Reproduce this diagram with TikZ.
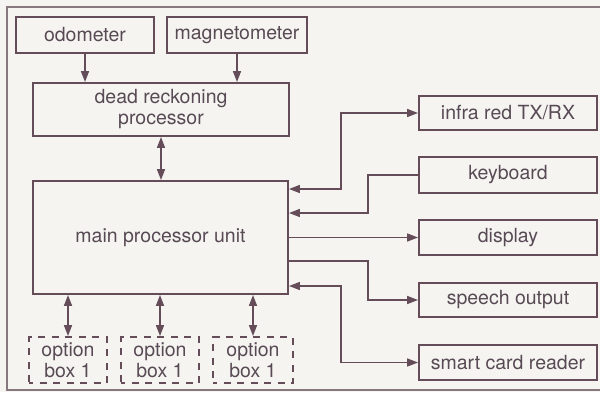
\documentclass[tikz,border=0pt]{standalone}
\usepackage{fontspec}
\setmainfont{TeX Gyre Heros}
\usetikzlibrary{arrows.meta}
\definecolor{ink}{RGB}{100,76,88}
\definecolor{txt}{RGB}{88,74,84}
\definecolor{paper}{RGB}{245,244,241}
\definecolor{framec}{RGB}{135,120,128}
\tikzset{
  blk/.style={draw=ink, line width=1.9pt, text=txt, inner sep=0pt, align=center,
    font=\fontsize{19.5}{21}\selectfont},
  optbox/.style={blk, dash pattern=on 7pt off 6.5pt, dash phase=3pt},
  tip/.tip={Triangle[length=11pt,width=8pt]},
  link/.style={draw=ink, line width=1.6pt, -tip},
  dlink/.style={draw=ink, line width=1.6pt, tip-tip}
}
\begin{document}
\begin{tikzpicture}[x=1pt, y=-1pt]
  % page and frame
  \fill[paper] (0,0) rectangle (600,392);
  \useasboundingbox (0,0) rectangle (600,392);
  \draw[framec, line width=1.2pt] (600,7) -- (7,7) -- (7,390) -- (600,390);

  % sensors and dead reckoning
  \node[blk, minimum width=138pt, minimum height=36pt] (odo) at (85,35) {odometer};
  \node[blk, minimum width=140pt, minimum height=36pt] (mag) at (237,35) {magnetometer};
  \node[blk, minimum width=256pt, minimum height=53pt] (dr) at (161,109.5) {dead reckoning\\processor};

  % main unit
  \node[blk, minimum width=255pt, minimum height=113pt] (main) at (160.5,237.5) {main processor unit};

  % option boxes
  \node[optbox, minimum width=78pt, minimum height=46pt] (opt1) at (68,360) {option\\box 1};
  \node[optbox, minimum width=78pt, minimum height=46pt] (opt2) at (160,360) {option\\box 1};
  \node[optbox, minimum width=80pt, minimum height=46pt] (opt3) at (253,360) {option\\box 1};

  % peripherals
  \node[blk, minimum width=178pt, minimum height=34pt] (ir)  at (508,113)   {infra red TX/RX};
  \node[blk, minimum width=178pt, minimum height=36pt] (kb)  at (508,175)   {keyboard};
  \node[blk, minimum width=178pt, minimum height=35pt] (dsp) at (508,237.5) {display};
  \node[blk, minimum width=178pt, minimum height=34pt] (sp)  at (508,300)   {speech output};
  \node[blk, minimum width=178pt, minimum height=35pt] (sc)  at (508,362.5) {smart card reader};

  % routing corners
  \coordinate (ja) at (341,189);
  \coordinate (jb) at (368,213);
  \coordinate (jc) at (368,261);
  \coordinate (jd) at (341,286);

  % connectors
  \draw[link] (odo.south) -- (dr.north -| odo.south);
  \draw[link] (mag.south) -- (dr.north -| mag.south);
  \draw[dlink] (dr.south) -- (main.north -| dr.south);
  \draw[dlink] (main.south -| opt1.north) -- (opt1.north);
  \draw[dlink] (main.south -| opt2.north) -- (opt2.north);
  \draw[dlink] (main.south -| opt3.north) -- (opt3.north);

  \draw[dlink] (main.east |- ja) -- (ja) |- (ir.west);
  \draw[link] (kb.west) -| (jb) -- (main.east |- jb);
  \draw[link] (main.east |- dsp.west) -- (dsp.west);
  \draw[link] (main.east |- jc) -- (jc) |- (sp.west);
  \draw[dlink] (main.east |- jd) -- (jd) |- (sc.west);
\end{tikzpicture}
\end{document}
